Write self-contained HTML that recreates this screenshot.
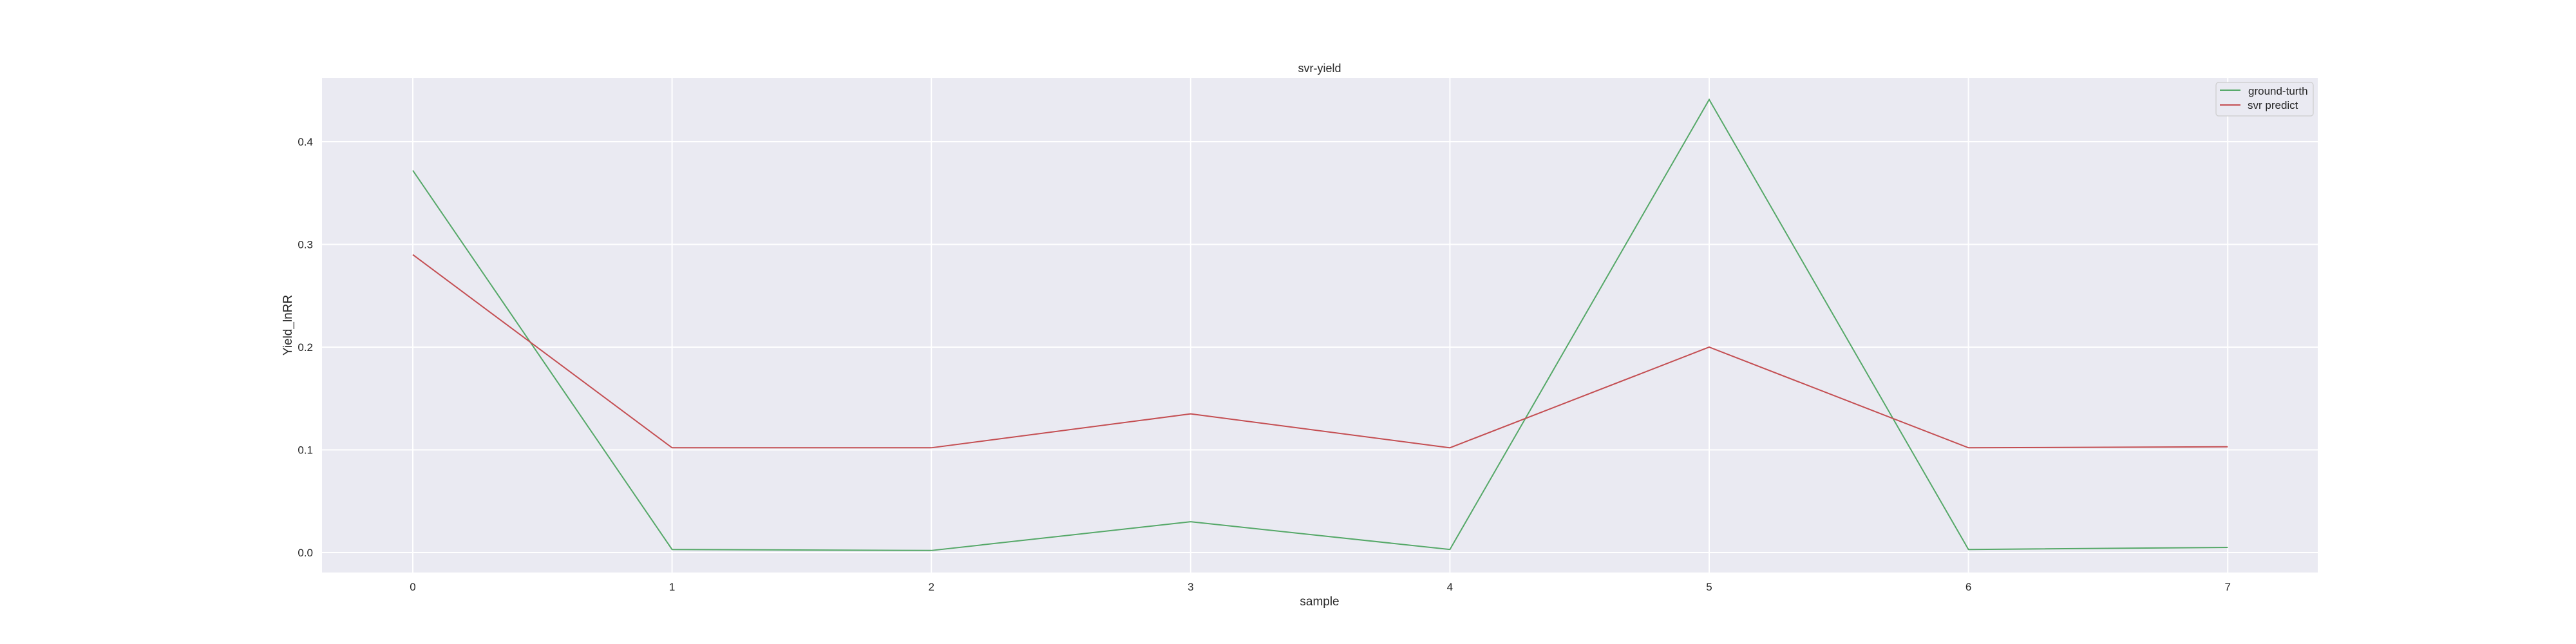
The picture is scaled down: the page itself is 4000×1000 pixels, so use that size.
<!DOCTYPE html>
<html><head><meta charset="utf-8"><style>
html,body{margin:0;padding:0;background:#fff;width:4000px;height:1000px;overflow:hidden}
text{font-family:"Liberation Sans","DejaVu Sans",sans-serif;fill:#262626}
</style></head><body>
<svg id="chart" width="4000" height="1000" xmlns="http://www.w3.org/2000/svg">
<rect x="500" y="121" width="3099" height="768" fill="#eaeaf2"/>
<g id="grid"></g>
<g id="ticks"></g>
<g id="series"></g>
<text x="2049" y="112" font-size="18" text-anchor="middle">svr-yield</text>
<text x="2049" y="940" font-size="19" text-anchor="middle">sample</text>
<text transform="translate(453,505) rotate(-90)" font-size="19" text-anchor="middle">Yield_lnRR</text>
<g>
<rect x="3441" y="128" width="151" height="52" rx="4" fill="#eaeaf2" stroke="#cccccc" stroke-width="1.2"/>
<line x1="3447" y1="140" x2="3479" y2="140" stroke="#55a868" stroke-width="2"/>
<text x="3491" y="147" font-size="17">ground-turth</text>
<line x1="3447" y1="163" x2="3479" y2="163" stroke="#c44e52" stroke-width="2"/>
<text x="3490" y="169" font-size="17">svr predict</text>
</g>
</svg>
<script>
const samples=[0,1,2,3,4,5,6,7];
const groundTruth=[0.372,0.003,0.002,0.030,0.003,0.441,0.003,0.005];
const svrPredict=[0.290,0.102,0.102,0.135,0.102,0.200,0.102,0.103];
const yTicks=[0.0,0.1,0.2,0.3,0.4];
const yTickLabels=["0.0","0.1","0.2","0.3","0.4"];
const NS="http://www.w3.org/2000/svg";
const x=v=>641+v*402.6;
const y=v=>858-v*1595;
function mk(tag,attrs,parent){const e=document.createElementNS(NS,tag);for(const k in attrs)e.setAttribute(k,attrs[k]);parent.appendChild(e);return e;}
const grid=document.getElementById('grid'),ticks=document.getElementById('ticks'),series=document.getElementById('series');
samples.forEach(s=>{
  const l=mk('line',{x1:x(s),x2:x(s),y1:121,y2:889,stroke:'#fff','stroke-width':2},grid);
  
  
  const t=mk('text',{x:x(s),y:917,'font-size':17,'text-anchor':'middle'},ticks);
  t.textContent=String(s);
  
  
});
yTicks.forEach((v,i)=>{
  const l=mk('line',{x1:500,x2:3599,y1:y(v),y2:y(v),stroke:'#fff','stroke-width':2},grid);
  
  
  const t=mk('text',{x:486,y:y(v)+6,'font-size':17,'text-anchor':'end'},ticks);
  t.textContent=yTickLabels[i];
  
  
});
function line(vals,color,name){
  const p=mk('polyline',{points:vals.map((v,i)=>x(samples[i])+','+y(v)).join(' '),fill:'none',stroke:color,'stroke-width':2},series);
  
  
}
line(groundTruth,'#55a868','ground-truth-line');
line(svrPredict,'#c44e52','svr-predict-line');
</script>
</body></html>
